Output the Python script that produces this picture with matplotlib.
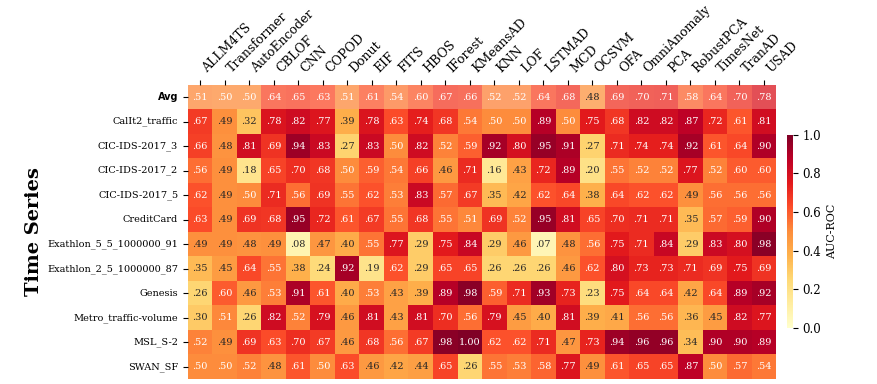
import numpy as np
import matplotlib.pyplot as plt
import seaborn as sns

plt.rcParams['font.family'] = ['DejaVu Serif']

models = ['ALLM4TS', 'Transformer', 'AutoEncoder', 'CBLOF', 'CNN', 'COPOD', 'Donut',
          'EIF', 'FITS', 'HBOS', 'IForest', 'KMeansAD', 'KNN', 'LOF', 'LSTMAD', 'MCD',
          'OCSVM', 'OFA', 'OmniAnomaly', 'PCA', 'RobustPCA', 'TimesNet', 'TranAD', 'USAD']

series = ['CalIt2_traffic', 'CIC-IDS-2017_3', 'CIC-IDS-2017_2', 'CIC-IDS-2017_5',
          'CreditCard', 'Exathlon_5_5_1000000_91', 'Exathlon_2_5_1000000_87', 'Genesis',
          'Metro_traffic-volume', 'MSL_S-2', 'SWAN_SF']

avg = [.51, .50, .50, .64, .65, .63, .51, .61, .54, .60, .67, .66,
       .52, .52, .64, .68, .48, .69, .70, .71, .58, .64, .70, .78]

scores = [
    [.67, .49, .32, .78, .82, .77, .39, .78, .63, .74, .68, .54,
     .50, .50, .89, .50, .75, .68, .82, .82, .87, .72, .61, .81],
    [.66, .48, .81, .69, .94, .83, .27, .83, .50, .82, .52, .59,
     .92, .80, .95, .91, .27, .71, .74, .74, .92, .61, .64, .90],
    [.56, .49, .18, .65, .70, .68, .50, .59, .54, .66, .46, .71,
     .16, .43, .72, .89, .20, .55, .52, .52, .77, .52, .60, .60],
    [.62, .49, .50, .71, .56, .69, .55, .62, .53, .83, .57, .67,
     .35, .42, .62, .64, .38, .64, .62, .62, .49, .56, .56, .56],
    [.63, .49, .69, .68, .95, .72, .61, .67, .55, .68, .55, .51,
     .69, .52, .95, .81, .65, .70, .71, .71, .35, .57, .59, .90],
    [.49, .49, .48, .49, .08, .47, .40, .55, .77, .29, .75, .84,
     .29, .46, .07, .48, .56, .75, .71, .84, .29, .83, .80, .98],
    [.35, .45, .64, .55, .38, .24, .92, .19, .62, .29, .65, .65,
     .26, .26, .26, .46, .62, .80, .73, .73, .71, .69, .75, .69],
    [.26, .60, .46, .53, .91, .61, .40, .53, .43, .39, .89, .98,
     .59, .71, .93, .73, .23, .75, .64, .64, .42, .64, .89, .92],
    [.30, .51, .26, .82, .52, .79, .46, .81, .43, .81, .70, .56,
     .79, .45, .40, .81, .39, .41, .56, .56, .36, .45, .82, .77],
    [.52, .49, .69, .63, .70, .67, .46, .68, .56, .67, .98, 1.00,
     .62, .62, .71, .47, .73, .94, .96, .96, .34, .90, .90, .89],
    [.50, .50, .52, .48, .61, .50, .63, .46, .42, .44, .65, .26,
     .55, .53, .58, .77, .49, .61, .65, .65, .87, .50, .57, .54],
]

data = np.array([avg] + scores)
row_labels = ['Avg'] + series

# labels like ".51", keep "1.00"
annot = np.array([['%.2f' % v if v >= 1 else ('%.2f' % v)[1:] for v in row] for row in data])

fig = plt.figure(figsize=(8.78, 3.84), dpi=100)
ax = fig.add_axes([0.214, 0.013, 0.670, 0.766])
cax = fig.add_axes([0.896, 0.146, 0.0068, 0.503])

avg_mask = np.zeros(data.shape, dtype=bool)
avg_mask[1:] = True

# avg row a bit washed out
sns.heatmap(data, mask=avg_mask, cmap='YlOrRd', vmin=0, vmax=1, annot=annot, fmt='',
            annot_kws={'size': 7}, ax=ax, cbar=False, alpha=0.75)
sns.heatmap(data, mask=~avg_mask, cmap='YlOrRd', vmin=0, vmax=1, annot=annot, fmt='',
            annot_kws={'size': 7}, ax=ax, cbar_ax=cax, cbar_kws={'label': 'AUC-ROC'})

ax.xaxis.tick_top()
ax.set_xticks(np.arange(len(models)) + 0.5)
ax.set_xticklabels(models, rotation=45, ha='left', fontsize=9)
ax.set_yticks(np.arange(len(row_labels)) + 0.5)
ax.set_yticklabels(row_labels, rotation=0, fontsize=7)
ax.get_yticklabels()[0].set_fontweight('bold')
ax.get_yticklabels()[0].set_family('DejaVu Sans')
ax.set_ylabel('Time Series', fontsize=14, fontweight='bold', labelpad=3)

cax.tick_params(labelsize=8.5)
cax.set_ylabel('AUC-ROC', fontsize=8)

fig.savefig('out.png', dpi=100)
